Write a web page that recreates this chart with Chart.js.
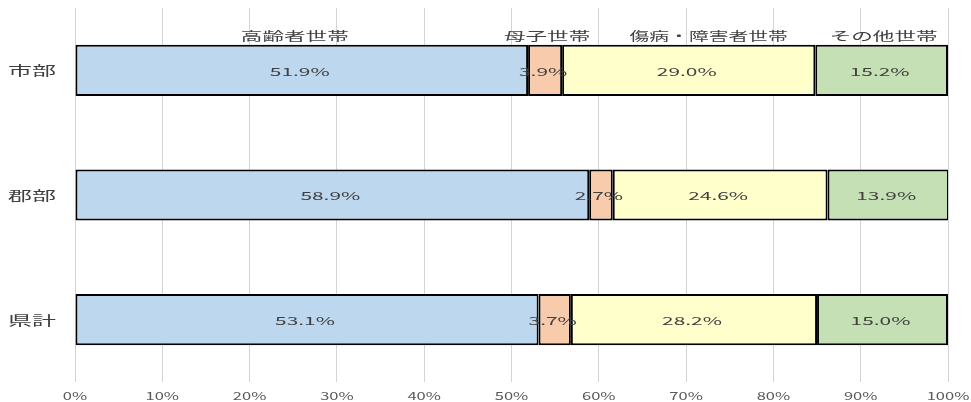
<!DOCTYPE html>
<html><head><meta charset="utf-8">
<script src="https://cdn.jsdelivr.net/npm/chart.js@4"></script>
<style>html,body{margin:0;padding:0;background:#fff}#w{width:971px;height:402px}</style>
</head><body><div id="w"><canvas id="c" width="971" height="402"></canvas></div>
<script>
const categories = ['市部', '郡部', '県計'];
const seriesNames = ['高齢者世帯', '母子世帯', '傷病・障害者世帯', 'その他世帯'];
const elderly = [51.9, 58.9, 53.1];
const mother = [3.9, 2.7, 3.7];
const sick = [29.0, 24.6, 28.2];
const other = [15.2, 13.9, 15.0];
const tickLabels = ['0%','10%','20%','30%','40%','50%','60%','70%','80%','90%','100%'];
const colors = ['#BDD7EE', '#F8CBAD', '#FFFFCC', '#C5E0B4'];
const seriesData = [elderly, mother, sick, other];

const FONT = '"Noto Sans CJK JP", "Noto Sans", sans-serif';
function stretchText(ctx, text, x, y, size, sx, color, align) {
  ctx.save();
  ctx.font = size + 'px ' + FONT;
  ctx.fillStyle = color;
  ctx.textAlign = align || 'center';
  ctx.textBaseline = 'middle';
  ctx.translate(x, y);
  ctx.scale(sx, 1);
  ctx.fillText(text, 0, 0);
  ctx.restore();
}

const labelPlugin = {
  id: 'labels',
  afterDatasetsDraw(chart) {
    const ctx = chart.ctx;
    const xs = chart.scales.x, ys = chart.scales.y;
    chart.data.datasets.forEach((ds, di) => {
      const meta = chart.getDatasetMeta(di);
      meta.data.forEach((bar, i) => {
        const cx = (bar.x + bar.base) / 2;
        stretchText(ctx, ds.data[i].toFixed(1) + '%', cx - 2, bar.y + 1, 11, 1.9, '#404040');
      });
      const b0 = meta.data[0];
      const cx0 = (b0.x + b0.base) / 2;
      const shift = di === 2 ? 20 : (di === 0 ? -7 : 2);
      stretchText(ctx, ds.label, cx0 + shift, b0.y - b0.height / 2 - 8, 12, di === 2 ? 1.65 : 1.8, '#404040');
    });
    categories.forEach((c, i) => {
      stretchText(ctx, c, 8, ys.getPixelForValue(i), 13, 1.85, '#404040', 'left');
    });
    tickLabels.forEach((t, i) => {
      stretchText(ctx, t, xs.getPixelForValue(i * 10), 396, 11, 1.5, '#595959');
    });
  }
};

new Chart(document.getElementById('c'), {
  type: 'bar',
  data: {
    labels: categories,
    datasets: seriesNames.map((n, k) => ({
      label: n,
      data: seriesData[k],
      backgroundColor: colors[k],
      borderColor: '#000',
      borderWidth: 2,
      borderSkipped: false,
      barPercentage: 0.41,
      categoryPercentage: 1.0
    }))
  },
  options: {
    indexAxis: 'y',
    responsive: false,
    animation: false,
    devicePixelRatio: 1,
    layout: { padding: { left: 75, right: 23, top: 8, bottom: 20 } },
    plugins: { legend: { display: false }, tooltip: { enabled: false } },
    scales: {
      x: {
        stacked: true, min: 0, max: 100,
        ticks: { display: false, stepSize: 10 },
        grid: { color: '#d4d4d4', lineWidth: 1, drawTicks: false },
        border: { display: false }
      },
      y: {
        stacked: true, display: false
      }
    }
  },
  plugins: [labelPlugin]
});
</script></body></html>
